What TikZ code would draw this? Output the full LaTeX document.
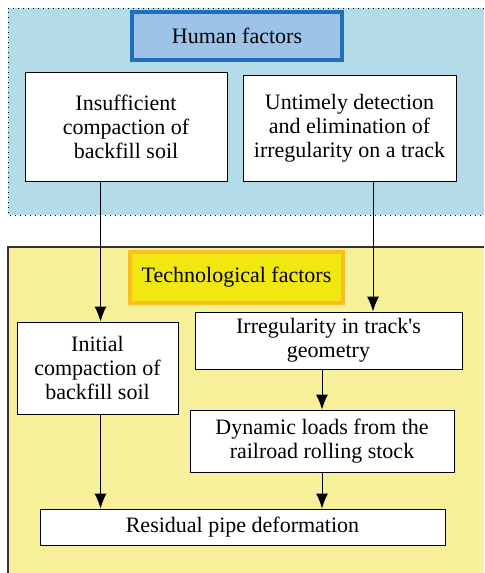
\documentclass[tikz,border=0pt]{standalone}
\usepackage{fontspec}
\setmainfont{Liberation Serif}
\usetikzlibrary{arrows.meta}
\definecolor{humanbg}{HTML}{B4DCE8}
\definecolor{humanfill}{HTML}{9DC4E8}
\definecolor{humanline}{HTML}{1F6FBF}
\definecolor{techbg}{HTML}{F7F09B}
\definecolor{techfill}{HTML}{F2E811}
\definecolor{techline}{HTML}{FBBE22}
\tikzset{
	factor/.style={draw, fill=white, line width=0.5pt, align=center, inner sep=1pt,
		font=\fontsize{11}{12}\selectfont},
	header/.style={factor, line width=1.8pt},
	arr/.style={-{Latex[length=7.5pt,width=6pt]}, line width=0.5pt}
}
\begin{document}
\begin{tikzpicture}[x=0.5pt, y=-0.5pt]
		\useasboundingbox (0,0) rectangle (484,573);
		% panels
		\fill[humanbg] (8,8) rectangle (484,215);
		\draw[dotted, line width=0.5pt] (484,8) -- (8,8) -- (8,215) -- (484,215);
		\fill[techbg] (8,247) rectangle (484,573);
		\draw[line width=0.6pt, black!80] (484,247) -- (8,247) -- (8,573);
		% human factors
		\node[header, draw=humanline, fill=humanfill, minimum width=105pt, minimum height=24pt] (HumanFactors) at (237,36) {Human factors};
		\node[factor, minimum width=101pt, minimum height=54.5pt] (Insufficient) at (126,126.5) {
			Insufficient\\ compaction of\\ backfill soil
		};
		\node[factor, minimum width=106.5pt, minimum height=53pt] (Untimely) at (349.5,128) {
			Untimely detection\\ and elimination of\\ irregularity on a track
		};
		% technological factors
		\node[header, draw=techline, fill=techfill, minimum width=106.5pt, minimum height=25.5pt] (TechFactors) at (236.5,277.5) {Technological factors};
		\node[factor, minimum width=80.5pt, minimum height=46pt] (Initial) at (97.5,368) {
			Initial\\ compaction of\\ backfill soil
		};
		\node[factor, minimum width=133.5pt, minimum height=28.5pt] (Irregularity) at (328.5,340.5) {
			Irregularity in track\textquotesingle s\\ geometry
		};
		\node[factor, minimum width=132pt, minimum height=31pt] (Dynamic) at (322,441) {
			Dynamic loads from the\\ railroad rolling stock
		};
		\node[factor, minimum width=202.5pt, minimum height=18pt] (Residual) at (242.5,527) {Residual pipe deformation};
		\draw[arr] ([xshift=1.5pt]Initial.north |- Insufficient.south) -- ([xshift=1.5pt]Initial.north);
		\draw[arr] ([xshift=11.75pt]Untimely.south) -- ([xshift=11.75pt]Untimely.south |- Irregularity.north);
		\draw[arr] (Dynamic.north |- Irregularity.south) -- (Dynamic.north);
		\draw[arr] ([xshift=1.5pt]Initial.south) -- ([xshift=1.5pt]Initial.south |- Residual.north);
		\draw[arr] (Dynamic.south) -- (Dynamic.south |- Residual.north);
\end{tikzpicture}
\end{document}
